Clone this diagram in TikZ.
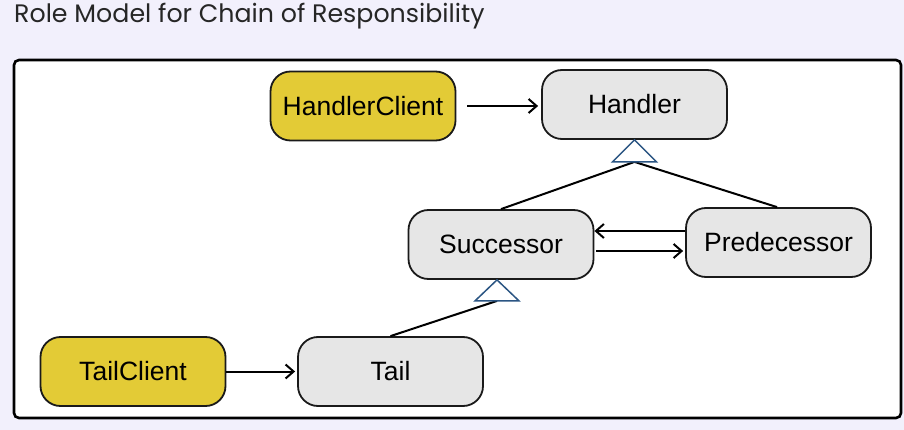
\documentclass[tikz,border=0pt]{standalone}
\usepackage{fontspec}
\setmainfont{Liberation Sans}
\newfontfamily\titlefont{Poppins}
\usetikzlibrary{arrows.meta}
\definecolor{bg}{HTML}{F2F0FC}
\definecolor{clientfill}{HTML}{E3CB36}
\definecolor{rolefill}{HTML}{E6E6E6}
\definecolor{inhcol}{HTML}{2B5583}
\definecolor{edge}{HTML}{1A1A1A}
\tikzset{
  role/.style={draw=edge, line width=1.8pt, fill=rolefill, rounded corners=20pt,
    minimum width=185pt, minimum height=69pt, inner sep=0pt,
    font=\fontsize{26.5}{30}\selectfont},
  client/.style={role, fill=clientfill},
  conn/.style={draw=black, line width=2pt},
  arr/.style={conn, -{Straight Barb[length=8pt,width=14pt,line width=2pt]}},
  inh/.style={draw=inhcol, line width=1.5pt, fill=white, line join=miter},
}
\begin{document}
\begin{tikzpicture}[x=1pt,y=-1pt]
\useasboundingbox (0,0) rectangle (904,430);
\fill[bg] (0,0) rectangle (904,430);
\node[anchor=base west, inner sep=0pt, text=black!85, font=\titlefont\fontsize{25.3}{30}\selectfont] (title) at (14,23) {Role Model for Chain of Responsibility};
\draw[line width=2.6pt, rounded corners=5pt, fill=white] (14,60) rectangle (901,418);

\node[client] (hc) at (363,106) {HandlerClient};
\node[role] (h) at (634.5,104.5) {Handler};
\node[role] (s) at (501,244.5) {Successor};
\node[role] (p) at (778.5,242.5) {Predecessor};
\node[client] (tc) at (133,371.5) {TailClient};
\node[role] (t) at (390.5,371.5) {Tail};

% association arrows
\draw[arr, shorten <=11pt, shorten >=3pt] (hc.east) -- (h.west |- hc.east);
\draw[arr, shorten >=2pt] (tc.east) -- (t.west);
\coordinate (ya) at (0,231);
\coordinate (yb) at (0,251);
\draw[arr] (p.west |- ya) -- (s.east |- ya);
\draw[arr, shorten <=2pt, shorten >=2pt] (s.east |- yb) -- (p.west |- yb);

% inheritance Handler
\coordinate (ha) at (h.south);
\coordinate (hb) at ([yshift=-22pt]h.south);
\draw[conn] (hb) -- (s.north);
\draw[conn] (hb) -- ([xshift=-1.5pt]p.north);
\draw[inh] (ha) -- ([xshift=-22pt]hb) -- ([xshift=22pt]hb) -- cycle;

% inheritance Successor
\coordinate (sa) at ([xshift=-4pt]s.south);
\coordinate (sb) at ([xshift=-4pt,yshift=-21pt]s.south);
\draw[conn] (sb) -- (t.north);
\draw[inh] (sa) -- ([xshift=-22pt]sb) -- ([xshift=22pt]sb) -- cycle;
\end{tikzpicture}
\end{document}
